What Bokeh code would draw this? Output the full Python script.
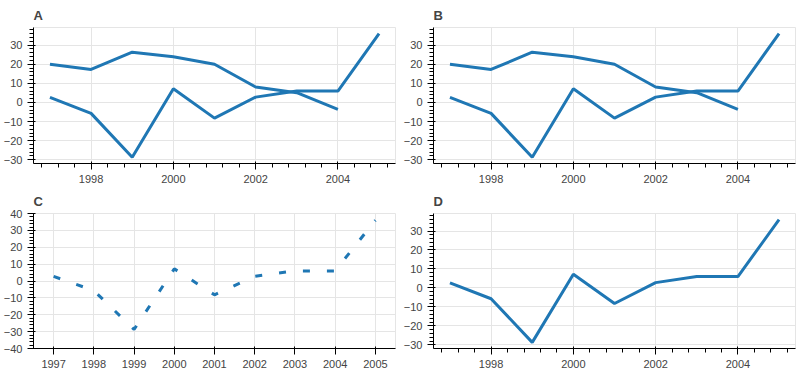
import math
from bokeh.plotting import figure
from bokeh.layouts import gridplot
from bokeh.models import (Range1d, FixedTicker)
from bokeh.embed import file_html
from bokeh.resources import INLINE

years = [1997, 1998, 1999, 2000, 2001, 2002, 2003, 2004, 2005]
year_labels = ["1997", "1998", "1999", "2000", "2001", "2002", "2003", "2004", "2005"]
despachos = [2.7, -5.7, -28.7, 7.2, -8.2, 2.8, 6.0, 6.0, 36.0]
precios = [20.0, 17.3, 26.3, 23.9, 20.0, 8.1, 5.1, -3.6, float("nan")]
x0 = years[0] - 0.5
x1 = years[-1] + 0.5

# A: bare, with NaN
a = figure(width=400, height=185, output_backend="svg", toolbar_location=None, title="A")
a.line(years, despachos, line_width=3)
a.line(years, precios, line_width=3)

# B: bare, no NaN
b = figure(width=400, height=185, output_backend="svg", toolbar_location=None, title="B")
b.line(years, despachos, line_width=3)
b.line(years[:8], precios[:8], line_width=3)

# C: ranges + ticker + overrides, no NaN
c = figure(width=400, height=185, output_backend="svg", toolbar_location=None, title="C",
           x_range=Range1d(x0, x1), y_range=Range1d(-40, 40))
c.xaxis.ticker = FixedTicker(ticks=years)
c.xaxis.major_label_overrides = {y: l for y, l in zip(years, year_labels)}
c.line(years, despachos, line_width=3, line_dash="7 17")

# D: min borders, no NaN
d = figure(width=400, height=185, output_backend="svg", toolbar_location=None, title="D",
           min_border_left=29, min_border_right=2, min_border_top=28)
d.line(years, despachos, line_width=3)

g = gridplot([[a, b], [c, d]], toolbar_location=None)
open("out.html", "w").write(file_html(g, INLINE))
